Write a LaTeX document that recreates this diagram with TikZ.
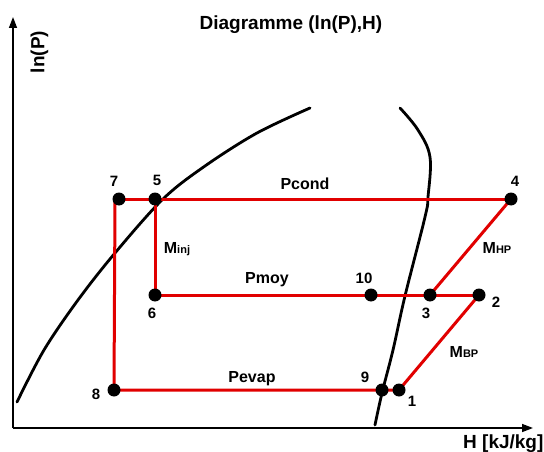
\documentclass[tikz,border=0pt]{standalone}
\usepackage{fontspec}
\setmainfont{Liberation Sans}
\usetikzlibrary{arrows.meta}
\definecolor{cyc}{RGB}{225,0,0}
\tikzset{
  pt/.style={circle,fill=black,inner sep=0pt,minimum size=13pt},
  num/.style={font=\bfseries\fontsize{15}{15}\selectfont,inner sep=0pt},
  lbl/.style={font=\bfseries\fontsize{16}{16}\selectfont,inner sep=0pt},
  big/.style={font=\bfseries\fontsize{19}{19}\selectfont,inner sep=0pt},
  cycle/.style={draw=cyc,line width=3pt},
  sat/.style={draw=black,line width=2.8pt,line cap=round},
  axis/.style={draw=black,line width=1.5pt,-{Triangle[length=11pt,width=8pt]}}
}
\newcommand{\sub}[1]{{\fontsize{11}{11}\selectfont #1}}
\begin{document}
\begin{tikzpicture}[x=1pt,y=-1pt]
\useasboundingbox (0,0) rectangle (544,452);
\fill[white] (0,0) rectangle (544,452);
% axes
\coordinate (O) at (13,428);
\coordinate (Ytop) at (13,17);
\coordinate (Xend) at (533,428);
\draw[axis] (O) -- (Ytop);
\draw[axis] (O) -- (Xend);
\node[big] (title) at (291,25) {Diagramme (ln(P),H)};
\node[big,rotate=90] (ylab) at (39.5,52) {ln(P)};
\node[big,anchor=west] (xlab) at (463,444) {H [kJ/kg]};
% saturation curves
\draw[sat] plot[smooth,tension=0.55] coordinates {(17,402) (44,350) (78,300) (115,253) (163,199) (205,166) (257,133) (310,108)};
\draw[sat] plot[smooth,tension=0.6] coordinates {(400,108) (418,130) (430,157) (428,197) (425,217) (405,296) (393,350) (382,393) (375,425)};
% cycle points
\coordinate (p7) at (119,199);
\coordinate (p7b) at (115,199);
\coordinate (p5) at (155,199);
\coordinate (p4) at (511,199);
\coordinate (p6) at (155,295);
\coordinate (p10) at (371,295);
\coordinate (p3) at (430,295);
\coordinate (p2) at (479,295);
\coordinate (p8) at (114,390);
\coordinate (p9) at (382,390);
\coordinate (p1) at (399,390);
% cycle lines
\draw[cycle] (p7) -- (p5) -- (p4);
\draw[cycle] (p7b) -- (p8);
\draw[cycle] (p5) -- (p6) -- (p10) -- (p3) -- (p2);
\draw[cycle] (p8) -- (p9) -- (p1) -- (p2);
\draw[cycle] (p3) -- (p4);
% dots
\foreach \p in {p7,p5,p4,p6,p10,p3,p2,p8,p9,p1}
  \node[pt] (d\p) at (\p) {};
% numbers
\node[num] (n7) at (114,181) {7};
\node[num] (n5) at (157,180) {5};
\node[num] (n4) at (515,181) {4};
\node[num] (n6) at (152,313) {6};
\node[num] (n10) at (364,278) {10};
\node[num] (n3) at (426,313) {3};
\node[num] (n2) at (496,302) {2};
\node[num] (n8) at (96,394) {8};
\node[num] (n9) at (365,377) {9};
\node[num] (n1) at (412,401) {1};
% labels
\node[lbl] (pcond) at (305,184) {Pcond};
\node[lbl] (pmoy) at (267,280) {Pmoy};
\node[lbl] (pevap) at (252,379) {Pevap};
\node[lbl] (minj) at (177,249) {M\sub{inj}};
\node[lbl] (mhp) at (497,248) {M\sub{HP}};
\node[lbl] (mbp) at (464,352) {M\sub{BP}};
\end{tikzpicture}
\end{document}
